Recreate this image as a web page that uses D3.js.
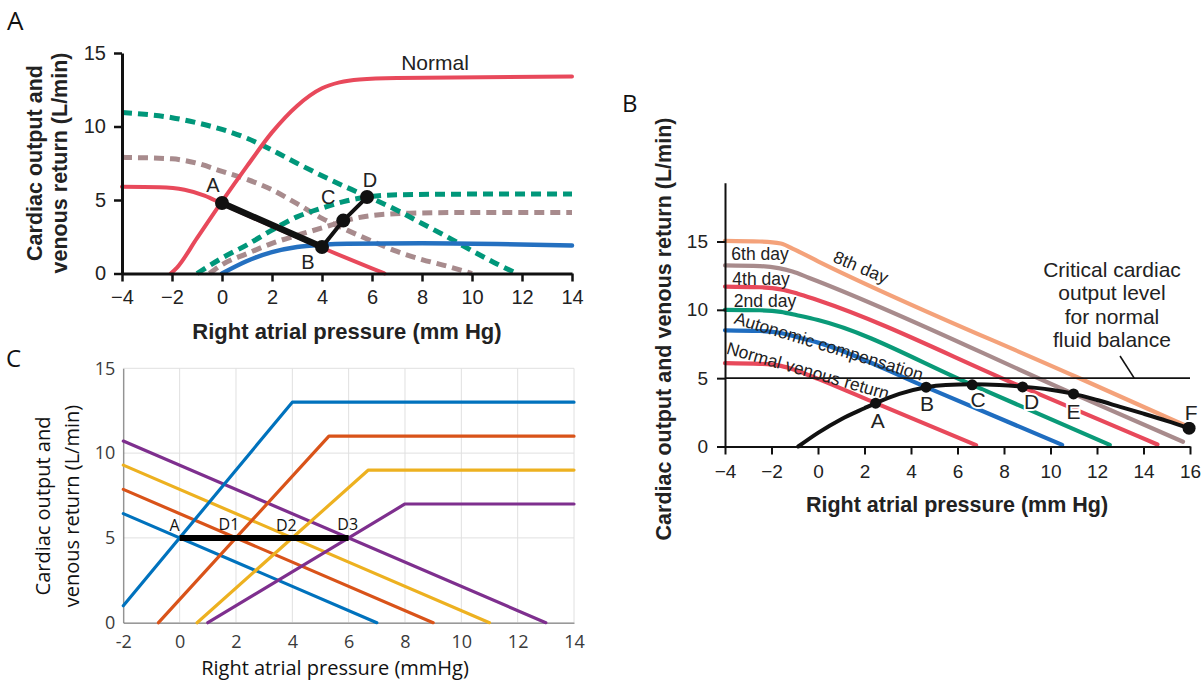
<!DOCTYPE html>
<html>
<head>
<meta charset="utf-8">
<script src="https://cdn.jsdelivr.net/npm/d3@7"></script>
<style>
  html, body { margin: 0; padding: 0; background: #fff; }
  svg { display: block; }
</style>
</head>
<body>
<svg id="fig" width="1204" height="681"></svg>
<script>
// ---------------- Panel A: acute heart failure and compensation ----------------
const aXTicks = [-4, -2, 0, 2, 4, 6, 8, 10, 12, 14];
const aYTicks = [0, 5, 10, 15];
const aNormalCO  = [[-2.05,0],[-1.8,0.4],[-1,2.4],[0,4.9],[1,7.3],[2,9.6],[3,11.4],[4,12.6],[4.7,13.0],[5.5,13.2],[7,13.3],[14,13.4]];
const aNormalVR  = [[-4,5.9],[-2.5,5.87],[-1.5,5.7],[-0.7,5.3],[0,4.75],[4,1.75],[6.5,0]];
const aFailCO    = [[0,0],[1,0.85],[2,1.45],[3,1.8],[4,1.95],[5,2.02],[8,2.05],[11,2.0],[14,1.9]];
const aPartCO    = [[-0.5,0],[0,0.6],[1,1.35],[2,2.05],[3,2.6],[4,3.1],[4.85,3.55],[6,3.95],[7.5,4.1],[10,4.15],[14,4.15]];
const aPartVR    = [[-4,7.9],[-2,7.8],[-1,7.5],[0,6.95],[1,6.4],[2,5.7],[3,4.75],[4,3.75],[5,2.95],[6,2.2],[7,1.5],[8,0.95],[9,0.5],[10,0]];
const aCompCO    = [[-1,0],[0,1.05],[1,1.95],[2,2.95],[3,3.85],[4,4.45],[5,4.95],[5.8,5.2],[7,5.35],[10,5.4],[14,5.4]];
const aCompVR    = [[-4,10.95],[-2,10.6],[-1,10.25],[0,9.8],[1,9.2],[2,8.4],[3,7.5],[4,6.65],[5,5.85],[6,5.1],[7,4.3],[8,3.4],[9,2.5],[10,1.55],[11,0.65],[11.8,0]];
const aStates    = [[0,4.8],[4,1.8],[4.85,3.6],[5.8,5.2]];
const aStateNames = ["A", "B", "C", "D"];

// ---------------- Panel B: progressive fluid retention ----------------
const bXTicks = [-4, -2, 0, 2, 4, 6, 8, 10, 12, 14, 16];
const bYTicks = [0, 5, 10, 15];
const bNormalVR = [[-4,6.1],[-2.5,6.05],[-1.6,5.9],[-0.9,5.55],[0,4.95],[2.48,3.17],[6.8,0.1]];
const bAutoVR   = [[-4,8.5],[-2.5,8.45],[-1.6,8.3],[-0.9,8.0],[0,7.6],[4.65,4.34],[10.5,0.12]];
const bDay2VR   = [[-4,10.0],[-2.5,9.97],[-1.6,9.85],[-0.9,9.6],[0,9.25],[6.63,4.51],[12.55,0.12]];
const bDay4VR   = [[-4,11.7],[-2.5,11.65],[-1.6,11.5],[-0.9,11.2],[0,10.7],[8.8,4.34],[14.6,0.15]];
const bDay6VR   = [[-4,13.25],[-2.5,13.2],[-1.7,13.05],[-1.1,12.8],[-0.4,12.35],[10.99,3.85],[15.7,0.35]];
const bDay8VR   = [[-4,15.05],[-2.5,15.0],[-1.6,14.85],[-1.0,14.4],[0,13.55],[11.1,5.1],[15.75,1.57]];
const bCO       = [[-0.85,0],[0,1.0],[1,2.0],[2,2.8],[2.48,3.17],[3.5,3.85],[4.65,4.34],[5.5,4.5],[6.63,4.55],[7.8,4.5],[8.8,4.38],[10,4.15],[10.99,3.85],[12,3.4],[13,2.9],[14,2.4],[15,1.88],[15.96,1.34]];
const bStates   = [[2.48,3.17],[4.65,4.34],[6.63,4.51],[8.8,4.36],[10.99,3.85],[15.96,1.34]];
const bStateNames = ["A", "B", "C", "D", "E", "F"];
const bCritical = 5;
const bCurveNames = ["8th day", "6th day", "4th day", "2nd day", "Autonomic compensation", "Normal venous return"];
const bCriticalText = ["Critical cardiac", "output level", "for normal", "fluid balance"];

// ---------------- Panel C: linearised model ----------------
const cXTicks = [-2, 0, 2, 4, 6, 8, 10, 12, 14];
const cYTicks = [0, 5, 10, 15];
const cCO = [
  [[-2,1],[4,13],[14,13]],
  [[-0.75,0],[5.3,11],[14,11]],
  [[0.62,0],[6.7,9],[14,9]],
  [[1,0],[8,7],[14,7]]
];
const cVR = [
  [[-2,6.43],[7,0]],
  [[-2,7.86],[9,0]],
  [[-2,9.29],[11,0]],
  [[-2,10.71],[13,0]]
];
const cStates = [[0,5],[2,5],[4,5],[6,5]];
const cStateNames = ["A", "D1", "D2", "D3"];

// ---------------- drawing ----------------
const svg = d3.select("#fig");
const HELV = "'Liberation Sans', Arial, Helvetica, sans-serif";
const SANS = "'Open Sans', 'Noto Sans', sans-serif";

function curve(g, x, y, pts, color, width, opts = {}) {
  const gen = d3.line().x(d => x(d[0])).y(d => y(d[1])).curve(opts.curve || d3.curveMonotoneX);
  return g.append("path")
    .attr("d", gen(pts))
    .attr("fill", "none")
    .attr("stroke", color)
    .attr("stroke-width", width)
    .attr("stroke-dasharray", opts.dash || null)
    .attr("stroke-linecap", opts.dash ? "butt" : "round")
    .attr("stroke-linejoin", "round");
}

function styleAxis(ax, lineW, tickW, fontSize, family, color) {
  ax.select(".domain").attr("stroke", color).attr("stroke-width", lineW);
  ax.selectAll(".tick line").attr("stroke", color).attr("stroke-width", tickW);
  ax.selectAll(".tick text").attr("font-size", fontSize).attr("font-family", family).attr("fill", "#222");
}

// ===== Panel A =====
{
  const g = svg.append("g");
  const x = d3.scaleLinear().domain([-4, 14]).range([122, 572]);
  const y = d3.scaleLinear().domain([0, 15]).range([273.5, 53]);

  const RED = "#e8495b", BLUE = "#2470c0", GREEN = "#00977a", BROWN = "#a88b8d";

  curve(g, x, y, aPartVR, BROWN, 5, { dash: "10,6" });
  curve(g, x, y, aPartCO, BROWN, 5, { dash: "10,6" });
  curve(g, x, y, aCompVR, GREEN, 5, { dash: "10,6" });
  curve(g, x, y, aCompCO, GREEN, 5, { dash: "10,6" });
  curve(g, x, y, aFailCO, BLUE, 4.5);
  curve(g, x, y, aNormalVR, RED, 4);
  curve(g, x, y, aNormalCO, RED, 4);

  const ay = g.append("g").attr("transform", `translate(${x(-4)},0)`)
    .call(d3.axisLeft(y).tickValues(aYTicks).tickSize(8).tickSizeOuter(0).tickPadding(8));
  styleAxis(ay, 3, 2.5, 20, HELV, "#111");
  const ax = g.append("g").attr("transform", `translate(0,${y(0)})`)
    .call(d3.axisBottom(x).tickValues(aXTicks).tickSize(8).tickSizeOuter(0).tickPadding(8));
  styleAxis(ax, 3, 2.5, 20, HELV, "#111");

  // path between the equilibrium states
  curve(g, x, y, aStates.slice(0, 2), "#111", 6.5, { curve: d3.curveLinear });
  curve(g, x, y, aStates.slice(1), "#111", 4, { curve: d3.curveLinear });
  g.selectAll("circle.st").data(aStates).join("circle")
    .attr("cx", d => x(d[0])).attr("cy", d => y(d[1])).attr("r", 7).attr("fill", "#111");

  const off = [[-9, -18], [-14, 15], [-15, -24], [3, -17]];
  g.selectAll("text.st").data(aStateNames).join("text")
    .attr("x", (d, i) => x(aStates[i][0]) + off[i][0])
    .attr("y", (d, i) => y(aStates[i][1]) + off[i][1])
    .attr("dy", "0.36em").attr("text-anchor", "middle")
    .attr("font-family", HELV).attr("font-size", 20).attr("fill", "#222").text(d => d);

  g.append("text").attr("x", 435).attr("y", 62).attr("dy", "0.36em").attr("text-anchor", "middle")
    .attr("font-family", HELV).attr("font-size", 21).attr("fill", "#222").text("Normal");

  g.append("text").attr("x", 347).attr("y", 339).attr("text-anchor", "middle")
    .attr("font-family", HELV).attr("font-weight", "bold").attr("font-size", 22).attr("fill", "#222")
    .text("Right atrial pressure (mm Hg)");
  const yt = g.append("text").attr("transform", "translate(0,163) rotate(-90)")
    .attr("text-anchor", "middle").attr("font-family", HELV).attr("font-weight", "bold")
    .attr("font-size", 21.5).attr("fill", "#222");
  yt.append("tspan").attr("x", 0).attr("y", 42).text("Cardiac output and");
  yt.append("tspan").attr("x", 0).attr("y", 67).text("venous return (L/min)");

  svg.append("text").attr("x", 7).attr("y", 30).attr("font-family", SANS).attr("font-size", 26)
    .attr("fill", "#111").text("A");
}

// ===== Panel B =====
{
  const g = svg.append("g");
  const x = d3.scaleLinear().domain([-4, 16]).range([725, 1190]);
  const y = d3.scaleLinear().domain([0, 19.3]).range([446.5, 182.7]);

  const cols = ["#f4a27a", "#a88b8c", "#e8495b", "#0a9a78", "#1f6dc0", "#e8495b"];
  const series = [bDay8VR, bDay6VR, bDay4VR, bDay2VR, bAutoVR, bNormalVR];
  series.forEach((s, i) => curve(g, x, y, s, cols[i], 4.2));

  const ay = g.append("g").attr("transform", `translate(${x(-4)},0)`)
    .call(d3.axisLeft(y).tickValues(bYTicks).tickSize(8).tickSizeOuter(0).tickPadding(9));
  styleAxis(ay, 2, 2, 19, HELV, "#111");
  const ax = g.append("g").attr("transform", `translate(0,${y(0)})`)
    .call(d3.axisBottom(x).tickValues(bXTicks).tickSize(8).tickSizeOuter(0).tickPadding(10));
  styleAxis(ax, 2, 2, 19, HELV, "#111");

  // critical output level
  g.append("line").attr("x1", x(-4)).attr("x2", x(16)).attr("y1", y(bCritical)).attr("y2", y(bCritical))
    .attr("stroke", "#111").attr("stroke-width", 1.6);
  g.append("line").attr("x1", x(12.99)).attr("y1", y(6.62)).attr("x2", x(13.6)).attr("y2", y(bCritical))
    .attr("stroke", "#111").attr("stroke-width", 1.6);
  const ct = g.append("text").attr("text-anchor", "middle").attr("font-family", HELV)
    .attr("font-size", 21).attr("fill", "#222");
  bCriticalText.forEach((t, i) => ct.append("tspan").attr("x", 1112).attr("y", 277 + i * 23.4).text(t));

  // cardiac output curve and equilibria
  curve(g, x, y, bCO, "#111", 4);
  g.selectAll("circle.st").data(bStates).join("circle")
    .attr("cx", d => x(d[0])).attr("cy", d => y(d[1])).attr("r", (d, i) => i === 5 ? 6.5 : 5.5).attr("fill", "#111");
  const off = [[2, 17], [1, 16], [6, 15], [9, 15], [0, 18], [2, -16]];
  g.selectAll("text.st").data(bStateNames).join("text")
    .attr("x", (d, i) => x(bStates[i][0]) + off[i][0])
    .attr("y", (d, i) => y(bStates[i][1]) + off[i][1])
    .attr("dy", "0.36em").attr("text-anchor", "middle")
    .attr("font-family", HELV).attr("font-size", 21).attr("fill", "#222")
    .attr("stroke", "#fff").attr("stroke-width", 4).attr("paint-order", "stroke")
    .text(d => d);

  // curve labels
  const lab = [
    { t: bCurveNames[0], x: 861, y: 267, a: 23 },
    { t: bCurveNames[1], x: 760, y: 254, a: 0 },
    { t: bCurveNames[2], x: 761, y: 279, a: 0 },
    { t: bCurveNames[3], x: 765, y: 300.5, a: 0 },
    { t: bCurveNames[4], x: 829, y: 346, a: 17 },
    { t: bCurveNames[5], x: 808, y: 370.5, a: 16 }
  ];
  g.selectAll("text.lab").data(lab).join("text")
    .attr("transform", d => `translate(${d.x},${d.y}) rotate(${d.a})`)
    .attr("dy", "0.36em").attr("text-anchor", "middle")
    .attr("font-family", HELV).attr("font-size", 17.5).attr("fill", "#222").text(d => d.t);

  g.append("text").attr("x", 957).attr("y", 512).attr("text-anchor", "middle")
    .attr("font-family", HELV).attr("font-weight", "bold").attr("font-size", 21.5).attr("fill", "#222")
    .text("Right atrial pressure (mm Hg)");
  g.append("text").attr("transform", "translate(671,329) rotate(-90)").attr("text-anchor", "middle")
    .attr("font-family", HELV).attr("font-weight", "bold").attr("font-size", 21.5).attr("fill", "#222")
    .text("Cardiac output and venous return (L/min)");

  svg.append("text").attr("x", 622).attr("y", 112).attr("font-family", SANS).attr("font-size", 24)
    .attr("fill", "#111").text("B");
}

// ===== Panel C =====
{
  const g = svg.append("g");
  const x = d3.scaleLinear().domain([-2, 14]).range([123.3, 574]);
  const y = d3.scaleLinear().domain([0, 15]).range([622.7, 368.3]);

  // grid
  g.selectAll("line.gx").data(cXTicks).join("line")
    .attr("x1", d => x(d)).attr("x2", d => x(d)).attr("y1", y(0)).attr("y2", y(15))
    .attr("stroke", "#e0e0e0").attr("stroke-width", 1);
  g.selectAll("line.gy").data(cYTicks).join("line")
    .attr("x1", x(-2)).attr("x2", x(14)).attr("y1", d => y(d)).attr("y2", d => y(d))
    .attr("stroke", "#e0e0e0").attr("stroke-width", 1);

  const ay = g.append("g").attr("transform", `translate(${x(-2)},0)`)
    .call(d3.axisLeft(y).tickValues(cYTicks).tickSize(0).tickSizeOuter(0).tickPadding(8));
  const ax = g.append("g").attr("transform", `translate(0,${y(0)})`)
    .call(d3.axisBottom(x).tickValues(cXTicks).tickFormat(d3.format("")).tickSize(0).tickSizeOuter(0).tickPadding(13));
  [ay, ax].forEach(a => {
    a.select(".domain").attr("stroke", "#6f6f6f").attr("stroke-width", 1);
    a.selectAll(".tick text").attr("font-size", 18).attr("font-family", SANS).attr("fill", "#3a3a3a");
  });
  ax.selectAll(".tick text").text(d => d < 0 ? "-" + Math.abs(d) : d);

  const cols = ["#0072bd", "#d95319", "#edb120", "#7e2f8e"];
  cVR.forEach((s, i) => curve(g, x, y, s, cols[i], 3.2, { curve: d3.curveLinear }));
  cCO.forEach((s, i) => curve(g, x, y, s, cols[i], 3.2, { curve: d3.curveLinear }));

  g.append("line").attr("x1", x(cStates[0][0])).attr("x2", x(cStates[3][0]))
    .attr("y1", y(cStates[0][1])).attr("y2", y(cStates[3][1]))
    .attr("stroke", "#000").attr("stroke-width", 6);

  const off = [[-5, -13], [-7, -14], [-6, -13], [-1, -14]];
  g.selectAll("text.st").data(cStateNames).join("text")
    .attr("x", (d, i) => x(cStates[i][0]) + off[i][0])
    .attr("y", (d, i) => y(cStates[i][1]) + off[i][1])
    .attr("dy", "0.36em").attr("text-anchor", "middle")
    .attr("font-family", SANS).attr("font-size", 16).attr("fill", "#111").text(d => d);

  g.append("text").attr("x", 335).attr("y", 675).attr("text-anchor", "middle")
    .attr("font-family", SANS).attr("font-size", 20).attr("fill", "#111")
    .text("Right atrial pressure (mmHg)");
  const yt = g.append("text").attr("transform", "translate(0,506) rotate(-90)")
    .attr("text-anchor", "middle").attr("font-family", SANS).attr("font-size", 20).attr("fill", "#111");
  yt.append("tspan").attr("x", 0).attr("y", 50).text("Cardiac output and");
  yt.append("tspan").attr("x", 0).attr("y", 79).text("venous return (L/min)");

  svg.append("text").attr("x", 6).attr("y", 367).attr("font-family", SANS).attr("font-size", 24)
    .attr("fill", "#111").text("C");
}
</script>
</body>
</html>
